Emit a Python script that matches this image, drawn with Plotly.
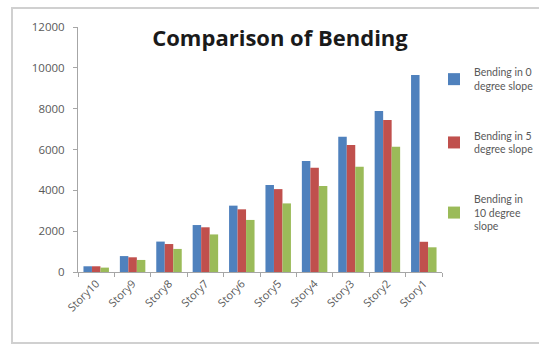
import plotly.graph_objects as go

stories = ["Story10", "Story9", "Story8", "Story7", "Story6",
           "Story5", "Story4", "Story3", "Story2", "Story1"]
bending_0deg = [280, 780, 1490, 2300, 3250, 4260, 5440, 6630, 7890, 9650]
bending_5deg = [280, 720, 1370, 2190, 3070, 4060, 5110, 6220, 7440, 1480]
bending_10deg = [215, 590, 1130, 1840, 2550, 3360, 4210, 5160, 6140, 1210]

y_ticks = [0, 2000, 4000, 6000, 8000, 10000, 12000]

series_names = ["Bending in 0<br>degree slope",
                "Bending in 5<br>degree slope",
                "Bending in<br>10 degree<br>slope"]
series_values = [bending_0deg, bending_5deg, bending_10deg]
series_colors = ["#4F81BD", "#C0504D", "#9BBB59"]

fig = go.Figure()
for i, (name, vals, col) in enumerate(zip(series_names, series_values, series_colors)):
    fig.add_trace(go.Bar(
        x=stories, y=vals, name=name, marker_color=col,
        marker_line_width=0, legendgroup=f"g{i}",
    ))

axis_grey = "#A6A6A6"
text_grey = "#595959"

fig.update_layout(
    width=539, height=350,
    margin=dict(l=78, r=97, t=27, b=78, autoexpand=False),
    paper_bgcolor="white", plot_bgcolor="white",
    barmode="group", bargap=0.3, bargroupgap=0,
    font=dict(family="Open Sans, DejaVu Sans, sans-serif", size=10, color=text_grey),
    title=dict(
        text="<b>Comparison of Bending</b>",
        font=dict(family="Open Sans, sans-serif", size=22, color="#1a1a1a"),
        x=(280 - 78) / 364, xref="paper", xanchor="center",
        y=1 - 38 / 350, yanchor="middle",
    ),
    legend=dict(
        x=(434 - 78) / 364, xanchor="left",
        y=(272 - 59) / 245, yanchor="top",
        font=dict(family="Lato, Open Sans, sans-serif", size=10.5, color=text_grey),
        tracegroupgap=33, itemwidth=30,
        bgcolor="rgba(0,0,0,0)",
    ),
    showlegend=True,
)

fig.update_xaxes(
    type="category", tickangle=-45, tickson="boundaries",
    ticks="outside", ticklen=4, tickcolor=axis_grey,
    showline=True, linecolor=axis_grey, linewidth=1,
    showgrid=False, tickfont=dict(size=11, color=text_grey),
)
fig.update_yaxes(
    range=[0, 12000], tickvals=y_ticks, ticktext=[str(v) for v in y_ticks],
    ticks="outside", ticklen=4, tickcolor=axis_grey, ticklabelstandoff=6,
    showline=True, linecolor=axis_grey, linewidth=1,
    showgrid=False, zeroline=False, tickfont=dict(size=11.5, color=text_grey),
)

# chart-area frame
fig.add_shape(
    type="rect", xref="paper", yref="paper",
    x0=(12 - 78) / 364, x1=(580 - 78) / 364,
    y0=(272 - 343) / 245, y1=(272 - 8) / 245,
    line=dict(color="#D0D0D0", width=2), fillcolor="rgba(0,0,0,0)", layer="below",
)

fig.write_html("out.html")
